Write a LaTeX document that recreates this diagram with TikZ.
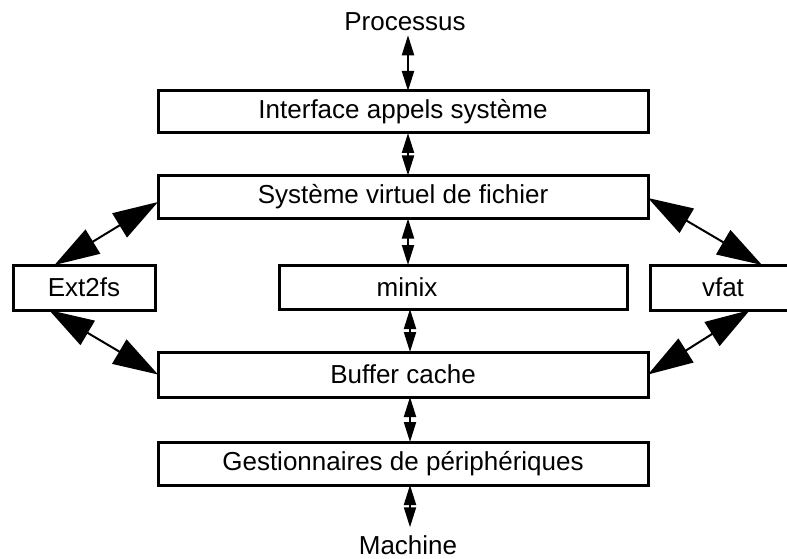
\documentclass[tikz,border=0pt]{standalone}
\usepackage{fontspec}
\setmainfont{Liberation Sans}
\usetikzlibrary{arrows.meta,calc}

\tikzset{
  layer/.style={draw, line width=3pt, inner sep=0pt, outer sep=0pt, font=\fontsize{26}{30}\selectfont},
  caption/.style={inner sep=0pt, font=\fontsize{26}{30}\selectfont},
  vlink/.style={line width=2pt, {Triangle[length=20pt,width=12pt]}-{Triangle[length=20pt,width=12pt]}},
  dlink/.style={line width=2pt, {Triangle[length=45pt,width=28pt]}-{Triangle[length=45pt,width=28pt]}}
}

\begin{document}
\begin{tikzpicture}[x=1pt, y=-1pt]
\path[use as bounding box, clip] (0,0) rectangle (787,559);

% layers of the file system stack
\node[layer, minimum width=490pt, minimum height=42pt] (iface) at (403,112) {Interface appels système};
\node[layer, minimum width=490pt, minimum height=43pt] (vfs) at (403,197) {Système virtuel de fichier};
\node[layer, minimum width=142pt, minimum height=45pt] (ext) at (84,287.5) {Ext2fs};
\node[layer, minimum width=348pt, minimum height=44pt] (minix) at (453,287) {};
\node[caption] (minixtext) at (407,287) {minix};
\node[layer, minimum width=146pt, minimum height=45pt] (vfat) at (723,287.5) {vfat};
\node[layer, minimum width=490pt, minimum height=45pt] (buffer) at (403,374.5) {Buffer cache};
\node[layer, minimum width=490pt, minimum height=43pt] (drivers) at (403,463.5) {Gestionnaires de périphériques};

\node[caption] (proc) at (405,22) {Processus};
\node[caption] (machine) at (408,545) {Machine};

% vertical axis of the stack
\coordinate (axis) at (408,0);
\coordinate (axisb) at (410,0);
\draw[vlink] ([yshift=-4pt]proc.south -| axis) -- (iface.north -| axis);
\draw[vlink] (iface.south -| axis) -- (vfs.north -| axis);
\draw[vlink] (vfs.south -| axis) -- (minix.north -| axis);
\draw[vlink] (minix.south -| axisb) -- (buffer.north -| axisb);
\draw[vlink] (buffer.south -| axisb) -- (drivers.north -| axisb);
\draw[vlink] (drivers.south -| axisb) -- ([yshift=8pt]machine.north -| axisb);

% side file systems
\draw[dlink] ([xshift=41.5pt]ext.north west) -- ([yshift=-5pt]vfs.west);
\draw[dlink] ([xshift=36pt]ext.south west) -- (buffer.west);
\draw[dlink] ([yshift=-1pt]vfs.east) -- ([xshift=112pt]vfat.north west);
\draw[dlink] ([xshift=100pt]vfat.south west) -- (buffer.east);
\end{tikzpicture}
\end{document}
